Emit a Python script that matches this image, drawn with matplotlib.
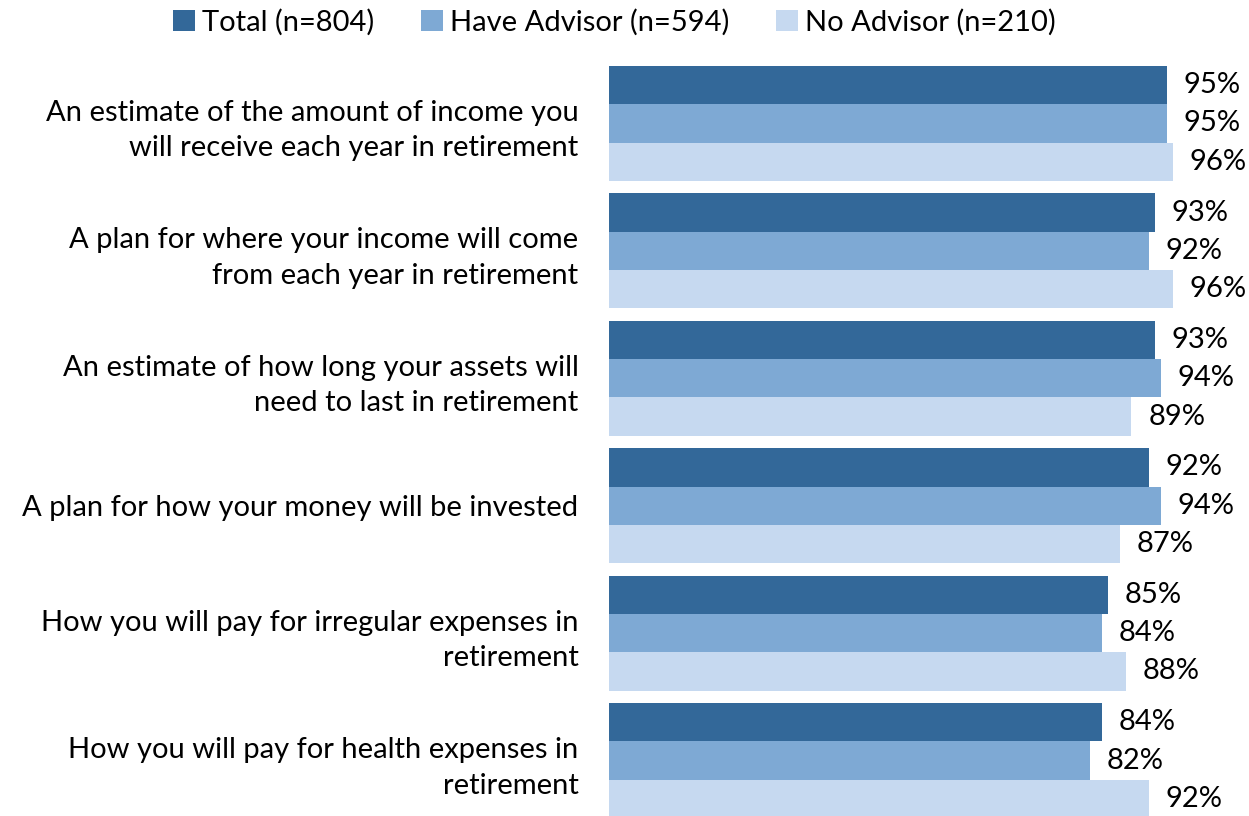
import matplotlib.pyplot as plt
from matplotlib.patches import Patch
import numpy as np

plt.rcParams['font.family'] = ['Lato', 'DejaVu Sans']
FONTSIZE = 21

categories = [
    "An estimate of the amount of income you\nwill receive each year in retirement",
    "A plan for where your income will come\nfrom each year in retirement",
    "An estimate of how long your assets will\nneed to last in retirement",
    "A plan for how your money will be invested",
    "How you will pay for irregular expenses in\nretirement",
    "How you will pay for health expenses in\nretirement",
]
series_names = ["Total (n=804)", "Have Advisor (n=594)", "No Advisor (n=210)"]
total = [95, 93, 93, 92, 85, 84]
have_advisor = [95, 92, 94, 94, 84, 82]
no_advisor = [96, 96, 89, 87, 88, 92]
colors = ["#336899", "#7EA9D4", "#C6D9F0"]

fig = plt.figure(figsize=(12.49, 8.16), dpi=100)
ax = fig.add_axes([0.4876, -0.0025, 0.4700, 0.9216])

pitch = 3.33
centers = np.arange(len(categories)) * pitch
for k, (vals, col) in enumerate(zip([total, have_advisor, no_advisor], colors)):
    ypos = centers + (k - 1)
    ax.barh(ypos, vals, height=1.0, color=col, edgecolor='none')
    for y, v in zip(ypos, vals):
        ax.annotate(f"{v}%", (v, y), xytext=(12, 0), textcoords='offset points',
                    va='center', ha='left', fontsize=FONTSIZE)

ax.set_xlim(0, 100)
ax.set_ylim(centers[-1] + 1.5, -1.5)
ax.set_yticks(centers)
ax.set_yticklabels(categories, fontsize=FONTSIZE, ha='right', linespacing=1.45)
ax.tick_params(axis='y', length=0, pad=22)
ax.set_xticks([])
for s in ax.spines.values():
    s.set_visible(False)

handles = [Patch(facecolor=c, edgecolor='none') for c in colors]
fig.legend(handles, series_names, loc='center', bbox_to_anchor=(0.492, 0.973),
           ncol=3, frameon=False, fontsize=FONTSIZE, handlelength=0.75,
           handleheight=0.75, handletextpad=0.25, columnspacing=1.6)

fig.savefig('out.png', dpi=100)
